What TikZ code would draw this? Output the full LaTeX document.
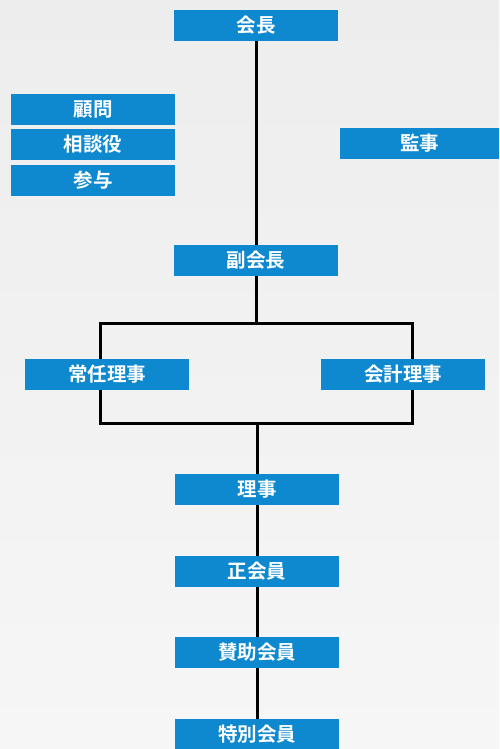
\documentclass[tikz,border=0pt]{standalone}
\usepackage{fontspec}
\setmainfont{Noto Sans CJK JP}[BoldFont={Noto Sans CJK JP Bold}]
\definecolor{boxblue}{RGB}{14,137,207}
\definecolor{bgtop}{RGB}{237,237,237}
\definecolor{bgbot}{RGB}{246,246,246}
\pgfdeclarelayer{bg}
\pgfdeclarelayer{lines}
\pgfsetlayers{bg,lines,main}
\tikzset{
  rolebox/.style={fill=boxblue, text=white, inner sep=0pt, minimum width=164pt, minimum height=31pt,
    font=\fontsize{19.5}{19.5}\selectfont\bfseries},
  link/.style={draw=black, line width=3pt}
}
\begin{document}
\begin{tikzpicture}[x=1pt,y=-1pt]
\begin{pgfonlayer}{bg}
\shade[top color=bgtop, bottom color=bgbot] (0,0) rectangle (499,749);
\end{pgfonlayer}
\useasboundingbox (0,0) rectangle (499,749);
\node[rolebox] (kaicho) at (256,25.5) {会長};
\node[rolebox] (komon) at (93,109.5) {顧問};
\node[rolebox] (sodan) at (93,144.5) {相談役};
\node[rolebox] (sanyo) at (93,180.5) {参与};
\node[rolebox, minimum width=159pt] (kanji) at (419.5,143.5) {監事};
\node[rolebox] (fuku) at (256,260.5) {副会長};
\node[rolebox] (jonin) at (107,374.5) {常任理事};
\node[rolebox] (kaikei) at (403,374.5) {会計理事};
\node[rolebox] (riji) at (257,489.5) {理事};
\node[rolebox] (sei) at (257,571.5) {正会員};
\node[rolebox] (sanjo) at (257,652.5) {賛助会員};
\node[rolebox] (toku) at (257,734.5) {特別会員};
\coordinate (rtl) at (100,323);
\coordinate (rbr) at (412,423);
\begin{pgfonlayer}{lines}
\draw[link] (kaicho) -- (fuku);
\draw[link] (fuku) -- (fuku |- rtl);
\draw[link] (rtl) rectangle (rbr);
\draw[link] (riji |- rbr) -- (riji);
\draw[link] (riji) -- (sei);
\draw[link] (sei) -- (sanjo);
\draw[link] (sanjo) -- (toku);
\end{pgfonlayer}
\end{tikzpicture}
\end{document}
